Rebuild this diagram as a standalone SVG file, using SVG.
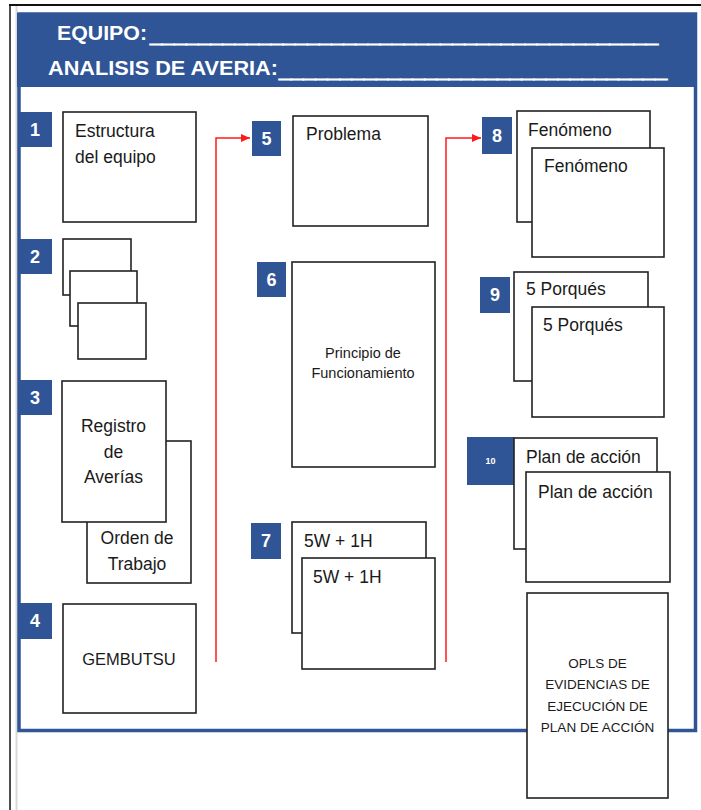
<svg xmlns="http://www.w3.org/2000/svg" width="701" height="810" viewBox="0 0 701 810">
  <defs>
    <marker id="arrow" markerWidth="10" markerHeight="10" refX="9" refY="5" orient="auto" markerUnits="userSpaceOnUse">
      <path d="M0,1 L9,5 L0,9 Z" fill="#ff1a1a"/>
    </marker>
    <style>
      .box { fill: #ffffff; stroke: #222222; stroke-width: 1.6; }
      .badge { fill: #2f5597; }
      .num { font-family: "Liberation Sans", Arial, sans-serif; font-weight: bold; font-size: 18px; fill: #ffffff; text-anchor: middle; }
      .num.tiny { font-size: 9px; }
      .lbl { font-family: "Liberation Sans", Arial, sans-serif; font-size: 17.5px; fill: #1a1a1a; }
      .mid { text-anchor: middle; }
      .lbl.sm { font-size: 14.5px; }
      .lbl.caps { font-size: 16.5px; }
      .lbl.note { font-size: 13.5px; }
      .hdr { font-family: "Liberation Sans", Arial, sans-serif; font-weight: bold; font-size: 21px; fill: #ffffff; }
      .uline { font-family: "Liberation Sans", Arial, sans-serif; font-weight: bold; font-size: 22px; fill: #ffffff; stroke: #ffffff; stroke-width: 1.2; }
      .link { fill: none; stroke: #ff1a1a; stroke-width: 1.5; }
    </style>
  </defs>

  <rect x="0" y="0" width="701" height="810" fill="#ffffff"/>

  <!-- page border -->
  <line x1="16.5" y1="5" x2="16.5" y2="810" stroke="#d9d9d9" stroke-width="2"/>
  <line x1="9" y1="5" x2="701" y2="5" stroke="#111111" stroke-width="2"/>
  <line x1="10" y1="5" x2="10" y2="810" stroke="#111111" stroke-width="1.5"/>

  <!-- form frame and title band -->
  <rect x="19" y="14" width="676.5" height="716.5" fill="#ffffff" stroke="#2f5597" stroke-width="3.5"/>
  <rect x="17" y="13" width="680" height="74" fill="#2f5597"/>

  <g id="title">
    <text class="hdr" x="57" y="40" textLength="90" lengthAdjust="spacingAndGlyphs">EQUIPO:</text>
    <text class="uline" x="150" y="41.9" textLength="508" lengthAdjust="spacingAndGlyphs">__________________________________________</text>
    <text class="hdr" x="48" y="75" textLength="230" lengthAdjust="spacingAndGlyphs">ANALISIS DE AVERIA:</text>
    <text class="uline" x="279" y="76.9" textLength="388" lengthAdjust="spacingAndGlyphs">________________________________</text>
  </g>

  <!-- connectors -->
  <g id="connectors">
    <polyline class="link" points="216,662 216,138 250,138" marker-end="url(#arrow)"/>
    <polyline class="link" points="446,662 446,138 481,138" marker-end="url(#arrow)"/>
  </g>

  <!-- 1 -->
  <g id="step1">
    <rect class="badge" x="20" y="112" width="32" height="35"/>
    <text class="num" x="35" y="136">1</text>
    <rect class="box" x="63" y="112" width="133" height="110"/>
    <text class="lbl" x="75" y="137">Estructura</text>
    <text class="lbl" x="75" y="163">del equipo</text>
  </g>

  <!-- 2 -->
  <g id="step2">
    <rect class="badge" x="20" y="239" width="32" height="35"/>
    <text class="num" x="35" y="263">2</text>
    <rect class="box" x="63" y="239" width="68" height="56"/>
    <rect class="box" x="70" y="271" width="67" height="55"/>
    <rect class="box" x="78" y="303" width="68" height="56"/>
  </g>

  <!-- 3 -->
  <g id="step3">
    <rect class="badge" x="20" y="380" width="32" height="35"/>
    <text class="num" x="35" y="404">3</text>
    <rect class="box" x="87" y="441" width="104" height="142"/>
    <text class="lbl mid" x="137" y="544">Orden de</text>
    <text class="lbl mid" x="137" y="570">Trabajo</text>
    <rect class="box" x="62" y="381" width="104" height="141"/>
    <text class="lbl mid" x="113.5" y="432">Registro</text>
    <text class="lbl mid" x="113.5" y="458">de</text>
    <text class="lbl mid" x="113.5" y="483">Averías</text>
  </g>

  <!-- 4 -->
  <g id="step4">
    <rect class="badge" x="20" y="603" width="32" height="36"/>
    <text class="num" x="35" y="627">4</text>
    <rect class="box" x="63" y="604" width="133" height="109"/>
    <text class="lbl caps mid" x="129" y="665">GEMBUTSU</text>
  </g>

  <!-- 5 -->
  <g id="step5">
    <rect class="badge" x="252" y="121" width="29" height="35"/>
    <text class="num" x="266.5" y="145">5</text>
    <rect class="box" x="293" y="116" width="135" height="110"/>
    <text class="lbl" x="306" y="140">Problema</text>
  </g>

  <!-- 6 -->
  <g id="step6">
    <rect class="badge" x="257" y="262" width="29" height="35"/>
    <text class="num" x="271.5" y="286">6</text>
    <rect class="box" x="292" y="262" width="143" height="205"/>
    <text class="lbl sm mid" x="363" y="358">Principio de</text>
    <text class="lbl sm mid" x="363" y="378">Funcionamiento</text>
  </g>

  <!-- 7 -->
  <g id="step7">
    <rect class="badge" x="251" y="523" width="30" height="36"/>
    <text class="num" x="266" y="547">7</text>
    <rect class="box" x="292" y="522" width="134" height="111"/>
    <text class="lbl" x="304" y="547">5W + 1H</text>
    <rect class="box" x="302" y="558" width="133" height="111"/>
    <text class="lbl" x="313" y="583">5W + 1H</text>
  </g>

  <!-- 8 -->
  <g id="step8">
    <rect class="badge" x="482" y="117" width="30" height="37"/>
    <text class="num" x="497" y="142">8</text>
    <rect class="box" x="517" y="111" width="133" height="111"/>
    <text class="lbl" x="528" y="136">Fenómeno</text>
    <rect class="box" x="532" y="148" width="132" height="109"/>
    <text class="lbl" x="544" y="172">Fenómeno</text>
  </g>

  <!-- 9 -->
  <g id="step9">
    <rect class="badge" x="480" y="277" width="30" height="36"/>
    <text class="num" x="495" y="301">9</text>
    <rect class="box" x="514" y="272" width="134" height="109"/>
    <text class="lbl" x="526" y="295">5 Porqués</text>
    <rect class="box" x="532" y="307" width="132" height="110"/>
    <text class="lbl" x="543" y="331">5 Porqués</text>
  </g>

  <!-- 10 -->
  <g id="step10">
    <rect class="badge" x="467" y="437" width="47" height="48"/>
    <text class="num tiny" x="490.5" y="464">10</text>
    <rect class="box" x="514" y="438" width="143" height="111"/>
    <text class="lbl" x="526" y="463">Plan de acción</text>
    <rect class="box" x="526" y="472" width="144" height="110"/>
    <text class="lbl" x="538" y="498">Plan de acción</text>
  </g>

  <!-- evidence sheet -->
  <g id="opls">
    <rect class="box" x="527" y="593" width="141" height="205"/>
    <text class="lbl note mid" x="597.5" y="668">OPLS DE</text>
    <text class="lbl note mid" x="597.5" y="689">EVIDENCIAS DE</text>
    <text class="lbl note mid" x="597.5" y="711">EJECUCIÓN DE</text>
    <text class="lbl note mid" x="597.5" y="732">PLAN DE ACCIÓN</text>
  </g>
</svg>
